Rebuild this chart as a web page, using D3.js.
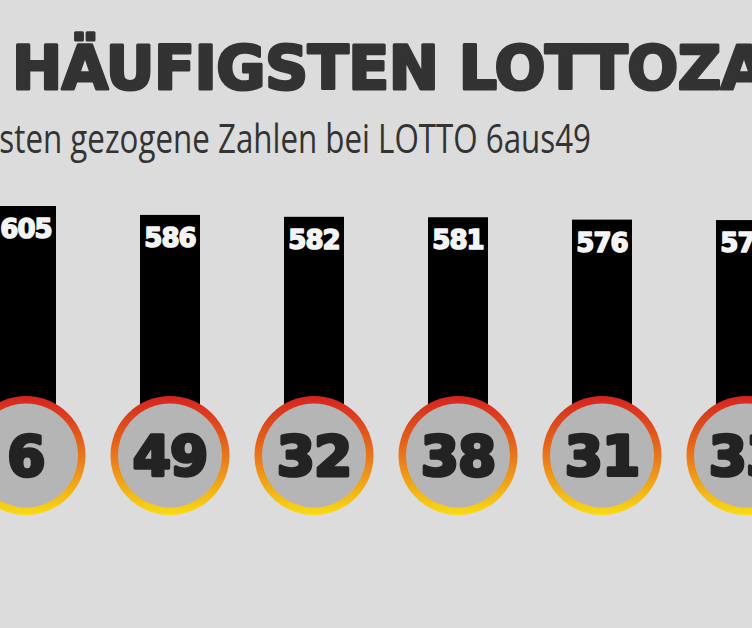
<!DOCTYPE html>
<html>
<head>
<meta charset="utf-8">
<script src="https://cdn.jsdelivr.net/npm/d3@7"></script>
<style>
html,body{margin:0;padding:0;background:#dcdcdc;overflow:hidden;}
svg{display:block;}
</style>
</head>
<body>
<svg id="chart" width="752" height="628"></svg>
<script>
const titleText = "DIE HÄUFIGSTEN LOTTOZAHLEN";
const titlePrefix = "DIE ";
const subtitleText = "Die am häufigsten gezogene Zahlen bei LOTTO 6aus49";
const subtitleVisible = "sten gezogene Zahlen bei LOTTO 6aus49";
const numbers = ["6", "49", "32", "38", "31", "33"];
const counts = [605, 586, 582, 581, 576, 575];

const W = 752, H = 628;
const svg = d3.select("#chart");
svg.append("rect").attr("width", W).attr("height", H).attr("fill", "#dcdcdc");

const defs = svg.append("defs");
const grad = defs.append("linearGradient").attr("id", "ring")
  .attr("x1", 0).attr("y1", 0).attr("x2", 0).attr("y2", 1);
grad.append("stop").attr("offset", "0%").attr("stop-color", "#d4231f");
grad.append("stop").attr("offset", "50%").attr("stop-color", "#e8761d");
grad.append("stop").attr("offset", "100%").attr("stop-color", "#f8dc14");

// Title
const tFont = 60;
const title = svg.append("text")
  .attr("y", 89)
  .attr("font-family", "DejaVu Sans")
  .attr("font-weight", "bold")
  .attr("font-size", tFont)
  .attr("fill", "#333333")
  .attr("stroke", "#333333")
  .attr("stroke-width", 3)
  .attr("stroke-linejoin", "round")
  .attr("letter-spacing", -0.5)
  .text(titleText);
const tmp = svg.append("text").attr("font-family", "DejaVu Sans").attr("font-weight", "bold")
  .attr("font-size", tFont).attr("letter-spacing", -0.5).style("white-space", "pre").text(titlePrefix);
const prefW = tmp.node().getComputedTextLength();
tmp.remove();
title.attr("x", 12 - prefW);

// Subtitle
const sub = svg.append("text")
  .attr("font-family", "Open Sans")
  .attr("font-weight", 400)
  .attr("font-size", 40)
  .attr("fill", "#333333")
  .attr("text-anchor", "end")
  .text(subtitleText);
const tmp2 = svg.append("text").attr("font-family", "Open Sans").attr("font-size", 40).text(subtitleVisible);
const visW = tmp2.node().getComputedTextLength();
tmp2.remove();
const sx = 592 / visW;
sub.attr("transform", `translate(591,153) scale(${sx},1)`);

// Scales
const x = d3.scalePoint().domain(numbers).range([26, 746]);
const y = d3.scaleLinear().domain([0, 605]).range([490, 206]);
const barW = 60;
const cy = 455.5;

const data = numbers.map((n, i) => ({ n, c: counts[i] }));

const g = svg.append("g");
g.selectAll("rect.bar").data(data).join("rect")
  .attr("class", "bar")
  .attr("x", d => x(d.n) - barW / 2)
  .attr("y", d => y(d.c))
  .attr("width", barW)
  .attr("height", d => y(0) - y(d.c))
  .attr("fill", "#000000");

g.selectAll("text.val").data(data).join("text")
  .attr("class", "val")
  .attr("x", d => x(d.n))
  .attr("y", d => y(d.c) + 32)
  .attr("text-anchor", "middle")
  .attr("font-family", "DejaVu Sans")
  .attr("font-weight", "bold")
  .attr("font-size", 26)
  .attr("fill", "#f4f4f4")
  .attr("stroke", "#f4f4f4")
  .attr("stroke-width", 1.6)
  .attr("stroke-linejoin", "round")
  .attr("letter-spacing", -1)
  .text(d => d.c);

g.selectAll("circle.outer").data(data).join("circle")
  .attr("class", "outer")
  .attr("cx", d => x(d.n)).attr("cy", cy).attr("r", 59.5)
  .attr("fill", "url(#ring)");
g.selectAll("circle.inner").data(data).join("circle")
  .attr("class", "inner")
  .attr("cx", d => x(d.n)).attr("cy", cy).attr("r", 52)
  .attr("fill", "#b5b5b5");

g.selectAll("text.num").data(data).join("text")
  .attr("class", "num")
  .attr("x", d => x(d.n))
  .attr("y", cy + 19.5)
  .attr("text-anchor", "middle")
  .attr("font-family", "DejaVu Sans")
  .attr("font-weight", "bold")
  .attr("font-size", 55)
  .attr("fill", "#232323")
  .attr("stroke", "#232323")
  .attr("stroke-width", 3.5)
  .attr("stroke-linejoin", "round")
  .attr("letter-spacing", -1)
  .text(d => d.n);
</script>
</body>
</html>
